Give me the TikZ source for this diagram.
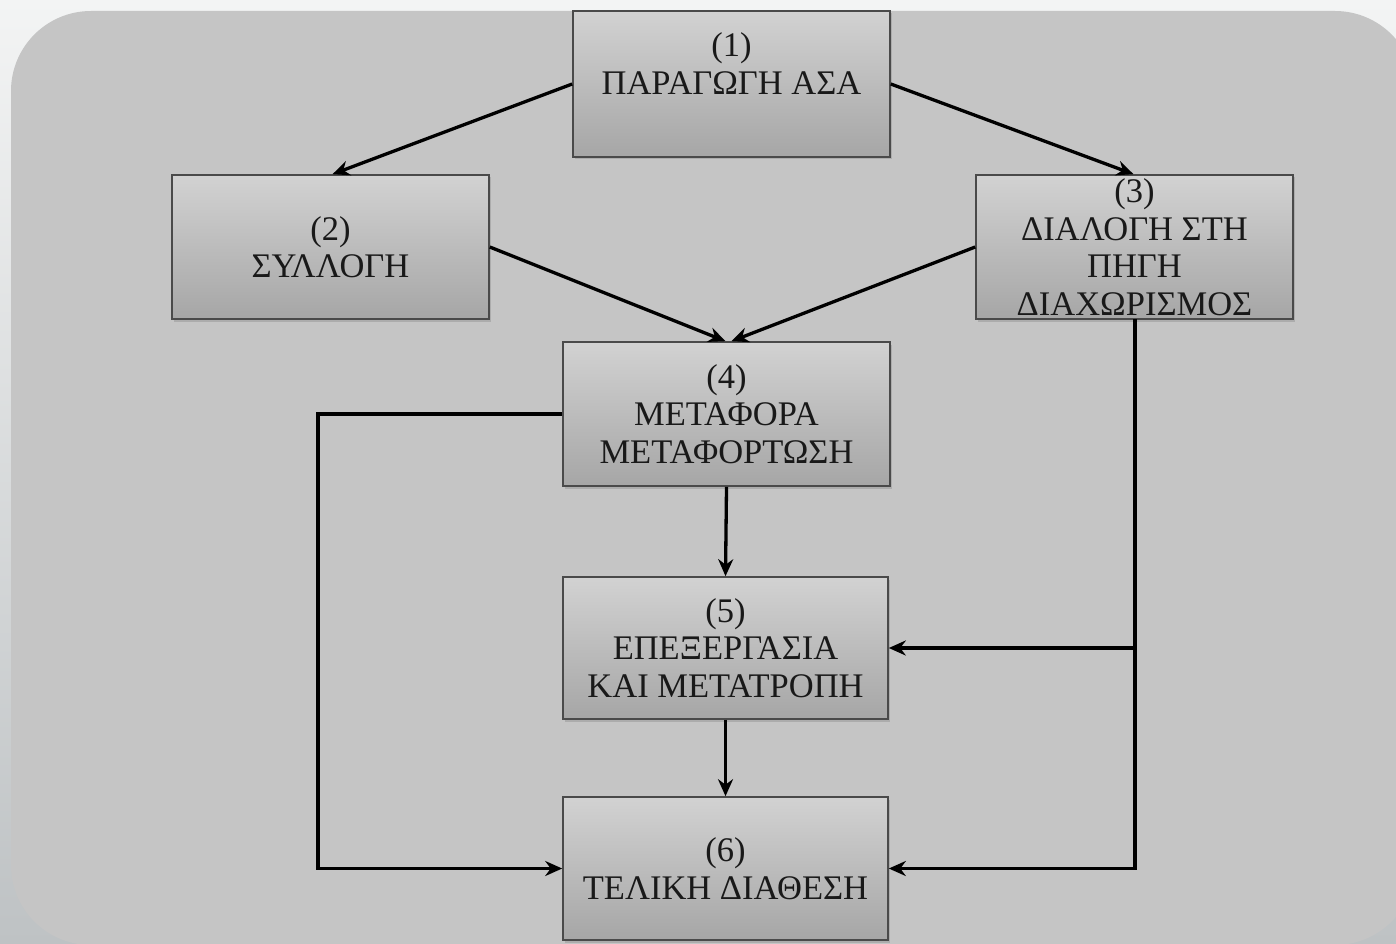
\documentclass[tikz,border=0pt]{standalone}
\usepackage{fontspec}
\setmainfont{Liberation Serif}
\usetikzlibrary{arrows.meta,shadows}
\definecolor{outerTop}{HTML}{F3F4F4}
\definecolor{outerBot}{HTML}{BEC2C4}
\definecolor{panel}{HTML}{C5C5C5}
\definecolor{boxTop}{HTML}{D2D2D2}
\definecolor{boxBot}{HTML}{A6A6A6}
\definecolor{boxLine}{HTML}{4A4A4A}
\tikzset{
  stagebox/.style={draw=boxLine, line width=1.6pt, top color=boxTop, bottom color=boxBot,
    minimum width=#1, align=center, inner sep=0pt, text=black!90,
    font=\fontsize{34.5}{37.5}\selectfont,
    drop shadow={opacity=0.35, shadow xshift=1.5pt, shadow yshift=-2.5pt}},
  flow/.style={line width=3.3pt, black, -{Stealth[length=17pt,width=15pt]}}
}
\begin{document}
\begin{tikzpicture}[x=1pt,y=-1pt]
\useasboundingbox (0,0) rectangle (1396,944);
\clip (0,0) rectangle (1396,944);
\shade[top color=outerTop, bottom color=outerBot] (0,0) rectangle (1396,944);
\fill[panel, rounded corners=80pt] (11,11) rectangle (1415,945);

\node[stagebox=317pt, minimum height=146pt] (b1) at (731.5,84) {(1)\\ΠΑΡΑΓΩΓΗ ΑΣΑ\\[-8pt]\strut};
\node[stagebox=317pt, minimum height=144pt] (b2) at (330.5,247) {(2)\\ΣΥΛΛΟΓΗ};
\node[stagebox=317pt, minimum height=144pt] (b3) at (1134.5,247) {(3)\\ΔΙΑΛΟΓΗ ΣΤΗ\\ΠΗΓΗ\\ΔΙΑΧΩΡΙΣΜΟΣ};
\node[stagebox=327pt, minimum height=144pt] (b4) at (726.5,414) {(4)\\ΜΕΤΑΦΟΡΑ\\ΜΕΤΑΦΟΡΤΩΣΗ};
\node[stagebox=325pt, minimum height=142pt] (b5) at (725.5,648) {(5)\\ΕΠΕΞΕΡΓΑΣΙΑ\\ΚΑΙ ΜΕΤΑΤΡΟΠΗ};
\node[stagebox=325pt, minimum height=143pt] (b6) at (725.5,868.5) {(6)\\ΤΕΛΙΚΗ ΔΙΑΘΕΣΗ};

\coordinate (L) at (318,414);
\coordinate (R) at (1135,319);

\draw[flow] (b1.west) -- ([xshift=2pt]b2.north);
\draw[flow] (b1.east) -- ([xshift=-1pt]b3.north);
\draw[flow] (b2.east) -- ([xshift=-1pt]b4.north);
\draw[flow] (b3.west) -- ([xshift=5pt]b4.north);
\draw[flow] (b4.south) -- (b5.north);
\draw[flow] (b5.south) -- (b6.north);
\draw[flow] (b4.west) -- (L) |- (b6.west);
\draw[flow] (R) |- (b6.east);
\draw[flow] (R |- b5.east) -- (b5.east);
\end{tikzpicture}
\end{document}
